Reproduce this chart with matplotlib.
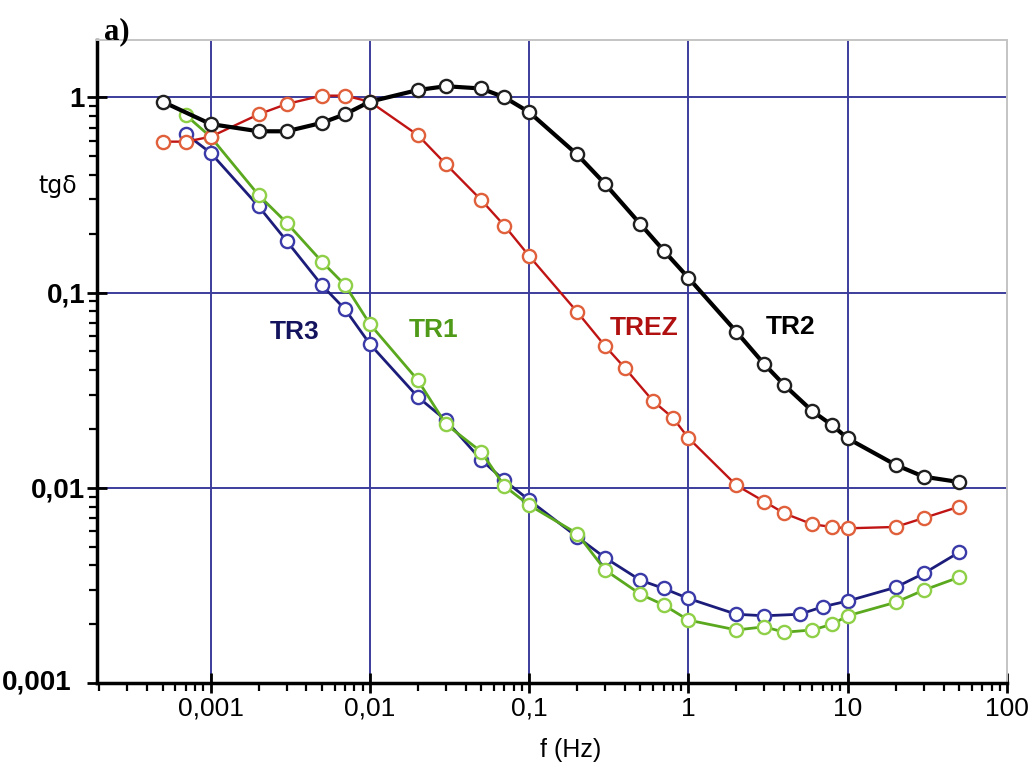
import matplotlib
matplotlib.use("Agg")
import matplotlib.pyplot as plt
from matplotlib.ticker import FixedLocator, LogLocator, NullFormatter

# ---- data ----
f_tr2 = [0.0005, 0.001, 0.002, 0.003, 0.005, 0.007, 0.01, 0.02, 0.03, 0.05, 0.07,
         0.1, 0.2, 0.3, 0.5, 0.7, 1, 2, 3, 4, 6, 8, 10, 20, 30, 50]
tgd_tr2 = [0.95, 0.73, 0.67, 0.67, 0.74, 0.82, 0.95, 1.09, 1.14, 1.11, 1.0,
           0.84, 0.51, 0.36, 0.224, 0.164, 0.119, 0.063, 0.0429, 0.0336, 0.0247, 0.0209, 0.0179,
           0.0131, 0.0114, 0.0107]

f_trez = [0.0005, 0.0007, 0.001, 0.002, 0.003, 0.005, 0.007, 0.01, 0.02, 0.03, 0.05, 0.07,
          0.1, 0.2, 0.3, 0.4, 0.6, 0.8, 1, 2, 3, 4, 6, 8, 10, 20, 30, 50]
tgd_trez = [0.593, 0.593, 0.628, 0.818, 0.924, 1.02, 1.02, 0.95, 0.641, 0.455, 0.298, 0.22,
            0.154, 0.0797, 0.0532, 0.041, 0.0278, 0.0228, 0.018, 0.0103, 0.0085, 0.0074, 0.0065,
            0.0063, 0.0062, 0.0063, 0.0070, 0.0080]

f_tr3 = [0.0007, 0.001, 0.002, 0.003, 0.005, 0.007, 0.01, 0.02, 0.03, 0.05, 0.07,
         0.1, 0.2, 0.3, 0.5, 0.7, 1, 2, 3, 5, 7, 10, 20, 30, 50]
tgd_tr3 = [0.648, 0.52, 0.277, 0.184, 0.109, 0.082, 0.0545, 0.0292, 0.0222, 0.0139, 0.0109,
           0.00865, 0.00561, 0.00438, 0.00336, 0.00305, 0.00271, 0.00225, 0.00221, 0.00225,
           0.00246, 0.00263, 0.00309, 0.00364, 0.00467]

f_tr1 = [0.0007, 0.001, 0.002, 0.003, 0.005, 0.007, 0.01, 0.02, 0.03, 0.05, 0.07,
         0.1, 0.2, 0.3, 0.5, 0.7, 1, 2, 3, 4, 6, 8, 10, 20, 30, 50]
tgd_tr1 = [0.81, 0.628, 0.316, 0.228, 0.144, 0.109, 0.069, 0.0356, 0.0212, 0.0153, 0.0102,
           0.00815, 0.00583, 0.00379, 0.00285, 0.00251, 0.0021, 0.00187, 0.00194, 0.00182,
           0.00187, 0.0020, 0.00221, 0.00259, 0.00299, 0.00348]

x_ticks = [0.001, 0.01, 0.1, 1, 10, 100]
x_ticklabels = ["0,001", "0,01", "0,1", "1", "10", "100"]
y_ticks = [0.001, 0.01, 0.1, 1]
y_ticklabels = ["", "0,01", "0,1", "1"]
y_bottom_label = "0,001"

series = [
    ("TR3", f_tr3, tgd_tr3, "#1c1c7a", "#3a3aa8", 2.0),
    ("TR1", f_tr1, tgd_tr1, "#5aa81e", "#8fd048", 2.0),
    ("TREZ", f_trez, tgd_trez, "#c01414", "#e0603c", 1.7),
    ("TR2", f_tr2, tgd_tr2, "#000000", "#202020", 3.0),
]
label_pos = {"TR3": (0.00338, 0.0628), "TR1": (0.0252, 0.0643),
             "TREZ": (0.531, 0.0658), "TR2": (4.37, 0.0665)}
label_col = {"TR3": "#14145e", "TR1": "#4f9a18", "TREZ": "#b01010", "TR2": "#000000"}

fig = plt.figure(figsize=(10.33, 7.67), dpi=100)
ax = fig.add_axes([0.0939, 0.1095, 0.8809, 0.8383])
ax.set_xscale("log")
ax.set_yscale("log")
ax.set_xlim(10 ** -3.713, 100)
ax.set_ylim(0.001, 10 ** 0.2935)

ax.grid(False)
for xv in x_ticks[:-1]:
    ax.axvline(xv, color="#3c3c9c", lw=1.4, zorder=1)
for yv in y_ticks[1:]:
    ax.axhline(yv, color="#3c3c9c", lw=1.4, zorder=1)

for name, fx, fy, lc, mc, lw in series:
    ax.plot(fx, fy, color=lc, lw=lw, marker="o", ms=9.5, mfc="white", mec=mc,
            mew=1.7, zorder=3)

for name, (tx, ty) in label_pos.items():
    ax.text(tx, ty, name, color=label_col[name], fontsize=19, fontweight="bold",
            family="Liberation Sans", ha="center", va="center", zorder=4)

ax.xaxis.set_major_locator(FixedLocator(x_ticks))
ax.set_xticklabels(x_ticklabels)
ax.xaxis.set_minor_locator(LogLocator(base=10, subs=range(2, 10), numticks=20))
ax.xaxis.set_minor_formatter(NullFormatter())
ax.yaxis.set_major_locator(FixedLocator(y_ticks))
ax.set_yticklabels(y_ticklabels)
ax.yaxis.set_minor_locator(LogLocator(base=10, subs=range(2, 10), numticks=20))
ax.yaxis.set_minor_formatter(NullFormatter())

ax.tick_params(axis="both", which="major", direction="inout", length=14, width=2,
               color="black")
ax.tick_params(axis="x", which="major", pad=3)
ax.tick_params(axis="y", which="major", pad=1.6)
ax.tick_params(axis="both", which="minor", direction="out", length=6, width=1.6,
               color="black")
for lab in ax.get_xticklabels():
    lab.set_fontfamily("Liberation Sans")
    lab.set_fontsize(19)
for lab in ax.get_yticklabels():
    lab.set_fontfamily("Liberation Sans")
    lab.set_fontweight("bold")
    lab.set_fontsize(20)

# bottom y label sits further left in the reference
fig.text(2 / 1033, 1 - 683 / 767, y_bottom_label, fontsize=20, fontweight="bold",
         family="Liberation Sans", ha="left", va="center")

ax.spines["left"].set_linewidth(2.5)
ax.spines["bottom"].set_linewidth(2.5)
ax.spines["left"].set_color("black")
ax.spines["bottom"].set_color("black")
ax.spines["top"].set_color("#c4c4c4")
ax.spines["right"].set_color("#c4c4c4")
ax.spines["top"].set_linewidth(1.4)
ax.spines["right"].set_linewidth(1.4)

fig.text(0.552, 0.022, "f (Hz)", fontsize=18, family="Liberation Sans",
         ha="center", va="center")
fig.text(0.056, 0.757, "tgδ", fontsize=17, family="DejaVu Sans",
         ha="center", va="center")
fig.text(0.113, 0.958, "a)", fontsize=22, fontweight="bold", family="Liberation Serif",
         ha="center", va="center")

fig.savefig("out.png", dpi=100)
